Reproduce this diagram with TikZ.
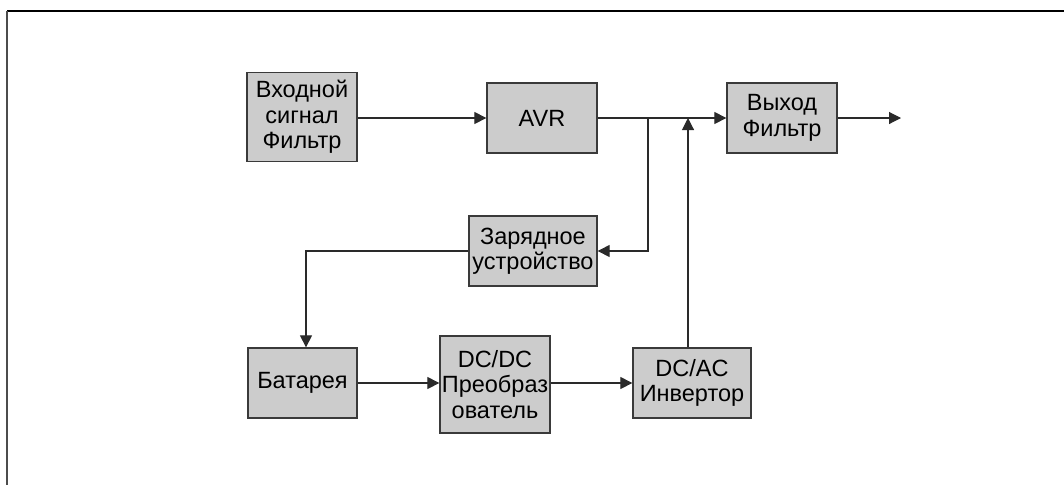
\documentclass[tikz,border=0pt]{standalone}
\usepackage{fontspec}
\setmainfont{Liberation Sans}
\usetikzlibrary{arrows.meta}
\definecolor{boxfill}{HTML}{CCCCCC}
\definecolor{boxline}{HTML}{3A3A3A}
\definecolor{wire}{HTML}{2A2A2A}
\tikzset{
  blk/.style={draw=boxline, line width=1.3pt, fill=boxfill, align=center, inner sep=1pt,
    font=\fontsize{23.5pt}{25.5pt}\selectfont, text=black},
  arr/.style={draw=wire, line width=1.1pt, -{Triangle[length=12pt,width=12pt]}},
}
\begin{document}
\begin{tikzpicture}[x=1pt,y=-1pt]
\useasboundingbox (0,0) rectangle (1064,485);
\draw[black, line width=1.4pt] (7,11) -- (1064,11);
\draw[black!70, line width=2pt] (7,11) -- (7,485);

\node[blk, minimum width=110pt, minimum height=89pt] (in) at (302,117) {Входной\\сигнал\\Фильтр};
\node[blk, minimum width=110pt, minimum height=70pt] (avr) at (542,118) {AVR};
\node[blk, minimum width=110pt, minimum height=70pt] (out) at (782,118) {Выход\\Фильтр};
\node[blk, minimum width=128pt, minimum height=70pt] (chg) at (533,251) {Зарядное\\устройство};
\node[blk, minimum width=109pt, minimum height=70pt] (bat) at (302.5,383) {Батарея};
\node[blk, minimum width=110pt, minimum height=97pt] (dcdc) at (495,384.5) {DC/DC\\Преобраз\\ователь};
\node[blk, minimum width=118pt, minimum height=70pt] (dcac) at (692,383) {DC/AC\\Инвертор};

\coordinate (br) at (648,118);
\coordinate (jn) at (688,118);
\coordinate (outend) at (901,118);

\draw[arr] (in.east |- avr.west) -- (avr.west);
\draw[arr] (avr.east) -- (out.west);
\draw[arr] (br) |- (chg.east);
\draw[arr] (dcac.north -| jn) -- (jn);
\draw[arr] (out.east) -- (outend);
\draw[arr] (chg.west) -| ([xshift=3.5pt]bat.north);
\draw[arr] (bat.east) -- (dcdc.west |- bat.east);
\draw[arr] (dcdc.east |- dcac.west) -- (dcac.west);
\end{tikzpicture}
\end{document}
